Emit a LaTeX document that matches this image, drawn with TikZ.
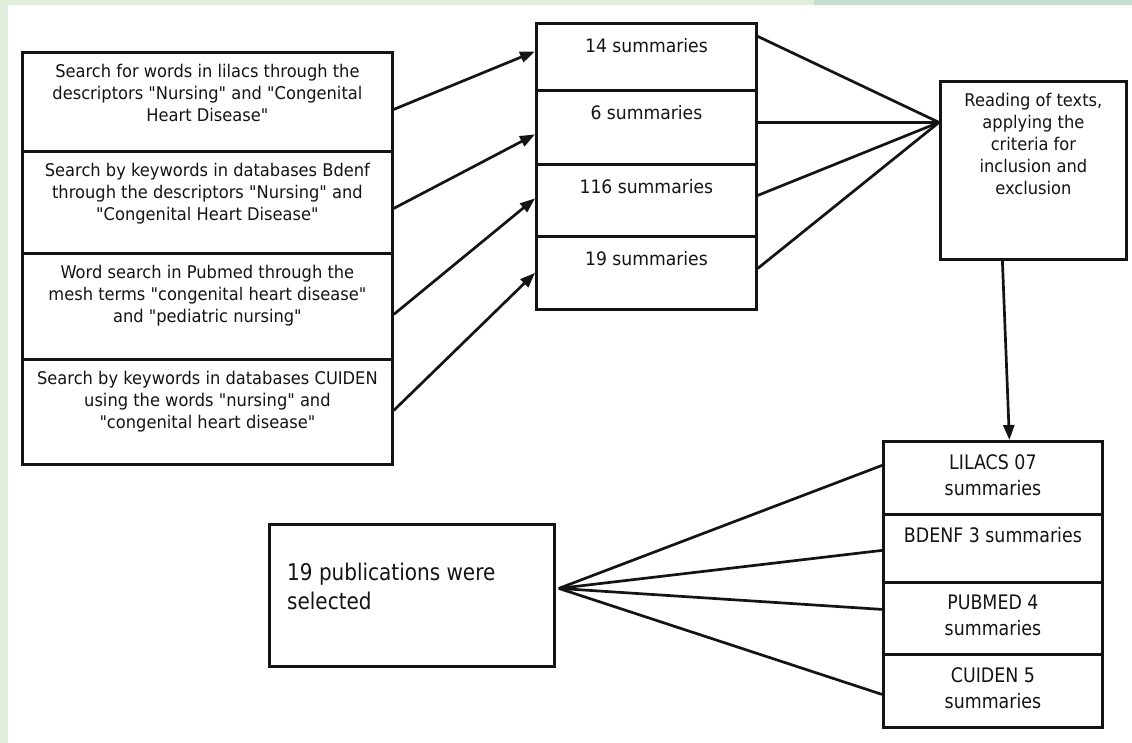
\documentclass[tikz,border=0pt]{standalone}
\usepackage{fontspec}
\setmainfont{DejaVu Sans}[FakeStretch=0.93, Ligatures=TeXOff]
\newfontfamily\condfont{DejaVu Sans}[FakeStretch=0.87, Ligatures=TeXOff]
\usetikzlibrary{positioning,arrows.meta}
\definecolor{bglight}{RGB}{226,238,220}
\definecolor{bgdark}{RGB}{198,222,207}
\definecolor{ink}{RGB}{20,20,20}

\begin{document}
\begin{tikzpicture}[x=1pt,y=-1pt,
	box/.style={draw=ink, line width=2.8pt, inner sep=0pt, anchor=north west},
	txt/.style={inner sep=0pt, align=center, text=ink, font=\fontsize{17.5}{22}\selectfont},
	sumtxt/.style={txt, font=\fontsize{18.5}{22}\selectfont},
	dbtxt/.style={txt, font=\condfont\fontsize{20}{26}\selectfont},
	seltxt/.style={txt, align=left, font=\condfont\fontsize{23}{29}\selectfont},
	link/.style={draw=ink, line width=2.7pt},
	arrow/.style={link, -{Triangle[length=15pt,width=11pt]}}]
	
	\useasboundingbox (0,0) rectangle (1132,743);
	% background and frame strips
	\fill[white] (0,0) rectangle (1132,743);
	\fill[bglight] (0,0) rectangle (8,743);
	\fill[bglight] (0,0) rectangle (814,5);
	\fill[bgdark] (814,0) rectangle (1132,5);
	
	% search boxes
	\node[box, minimum width=370pt, minimum height=99pt] (lilacs) at (21,51) {};
	\node[box, minimum width=370pt, minimum height=102pt] (bdenf) at (21,150) {};
	\node[box, minimum width=370pt, minimum height=106pt] (pubmed) at (21,252) {};
	\node[box, minimum width=370pt, minimum height=105pt] (cuiden) at (21,358) {};
	
	\node[txt, below=13pt of lilacs.north] (lilacstext) {Search for words in lilacs through the\\descriptors "Nursing" and "Congenital\\Heart Disease"};
	\node[txt, below=13pt of bdenf.north] (bdenftext) {Search by keywords in databases Bdenf\\through the descriptors "Nursing" and\\"Congenital Heart Disease"};
	\node[txt, below=13pt of pubmed.north] (pubmedtext) {Word search in Pubmed through the\\mesh terms "congenital heart disease"\\and "pediatric nursing"};
	\node[txt, below=13pt of cuiden.north] (cuidentext) {Search by keywords in databases CUIDEN\\using the words "nursing" and\\"congenital heart disease"};
	
	% summaries
	\node[box, minimum width=220pt, minimum height=67pt] (sum14) at (535,22) {};
	\node[box, minimum width=220pt, minimum height=74pt] (sum6) at (535,89) {};
	\node[box, minimum width=220pt, minimum height=72pt] (sum116) at (535,163) {};
	\node[box, minimum width=220pt, minimum height=73pt] (sum19) at (535,235) {};
	
	\node[sumtxt, below=16pt of sum14.north] (sum14text) {14 summaries};
	\node[sumtxt, below=16pt of sum6.north] (sum6text) {6 summaries};
	\node[sumtxt, below=16pt of sum116.north] (sum116text) {116 summaries};
	\node[sumtxt, below=16pt of sum19.north] (sum19text) {19 summaries};
	
	% reading
	\node[box, minimum width=186pt, minimum height=178pt] (read) at (939,80) {};
	\node[txt, below=13pt of read.north] (readtext) {Reading of texts,\\applying the\\criteria for\\inclusion and\\exclusion};
	
	% results per database
	\node[box, minimum width=219pt, minimum height=73pt] (reslilacs) at (882,440) {};
	\node[box, minimum width=219pt, minimum height=68pt] (resbdenf) at (882,513) {};
	\node[box, minimum width=219pt, minimum height=72pt] (respubmed) at (882,581) {};
	\node[box, minimum width=219pt, minimum height=73pt] (rescuiden) at (882,653) {};
	
	\node[dbtxt, below=14pt of reslilacs.north] (reslilacstext) {LILACS 07\\summaries};
	\node[dbtxt, below=14pt of resbdenf.north] (resbdenftext) {BDENF 3 summaries};
	\node[dbtxt, below=14pt of respubmed.north] (respubmedtext) {PUBMED 4\\summaries};
	\node[dbtxt, below=14pt of rescuiden.north] (rescuidentext) {CUIDEN 5\\summaries};
	
	% selected
	\node[box, minimum width=285pt, minimum height=142pt] (sel) at (268,523) {};
	\node[seltxt, anchor=north west, below right=40pt and 19pt of sel.north west] (seltext) {19 publications were\\selected};
	
	% arrows to summaries
	\draw[arrow] ([yshift=-7.5pt]lilacs.east) -- ([yshift=5.5pt]sum14.west);
	\draw[arrow] ([yshift=-6pt]bdenf.east) -- ([yshift=-7pt]sum6.west);
	\draw[arrow] ([yshift=-8pt]pubmed.east) -- ([yshift=2pt]sum116.west);
	\draw[arrow] ([yshift=1.5pt]cuiden.east) -- (sum19.west);
	
	% lines to reading
	\draw[link] ([yshift=20.5pt]sum14.east) -- ([yshift=48pt]read.west);
	\draw[link] ([yshift=5pt]sum6.east) -- ([yshift=48pt]read.west);
	\draw[link] ([yshift=5pt]sum116.east) -- ([yshift=48pt]read.west);
	\draw[link] ([yshift=4.5pt]sum19.east) -- ([yshift=48pt]read.west);
	
	\draw[arrow] ([xshift=-31pt]read.south) -- ([xshift=16.5pt]reslilacs.north);
	
	% fan to selected
	\draw[link] ([xshift=3pt,yshift=7pt]sel.east) -- ([yshift=12.5pt]reslilacs.west);
	\draw[link] ([xshift=3pt,yshift=7pt]sel.east) -- ([yshift=-2pt]resbdenf.west);
	\draw[link] ([xshift=3pt,yshift=7pt]sel.east) -- ([yshift=9pt]respubmed.west);
	\draw[link] ([xshift=3pt,yshift=7pt]sel.east) -- ([yshift=-3.5pt]rescuiden.west);
	
\end{tikzpicture}
\end{document}
